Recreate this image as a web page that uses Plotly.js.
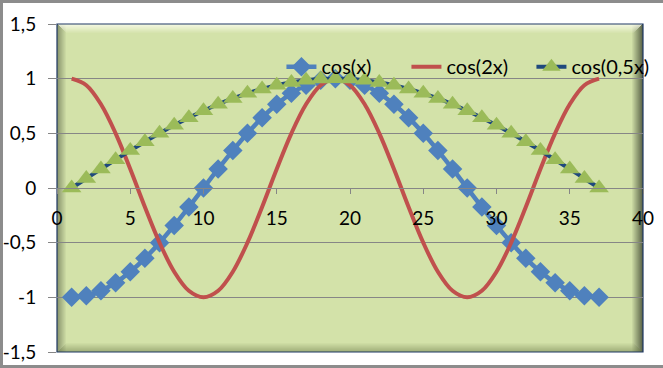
<!DOCTYPE html>
<html>
<head>
<meta charset="utf-8">
<script src="https://cdn.plot.ly/plotly-3.0.1.min.js"></script>
<style>
  html, body { margin: 0; padding: 0; background: #fff; }
  #wrap { position: relative; width: 663px; height: 368px; overflow: hidden; }
  #chart { width: 663px; height: 368px; }
  #frame { position: absolute; left: 0; top: 0; width: 663px; height: 368px; box-sizing: border-box;
           border-top: 3px solid #8c8c8c; border-left: 3px solid #8c8c8c; border-bottom: 3px solid #8c8c8c;
           pointer-events: none; }
</style>
</head>
<body>
<div id="wrap"><div id="chart"></div><div id="frame"></div></div>
<script>
// ---- data ----
const xValues = [1,2,3,4,5,6,7,8,9,10,11,12,13,14,15,16,17,18,19,20,21,22,23,24,25,26,27,28,29,30,31,32,33,34,35,36,37];
const cosX = [-1,-0.985,-0.94,-0.866,-0.766,-0.643,-0.5,-0.342,-0.174,0,0.174,0.342,0.5,0.643,0.766,0.866,0.94,0.985,1,
              0.985,0.94,0.866,0.766,0.643,0.5,0.342,0.174,0,-0.174,-0.342,-0.5,-0.643,-0.766,-0.866,-0.94,-0.985,-1];
const cos2X = [1,0.94,0.766,0.5,0.174,-0.174,-0.5,-0.766,-0.94,-1,-0.94,-0.766,-0.5,-0.174,0.174,0.5,0.766,0.94,1,
               0.94,0.766,0.5,0.174,-0.174,-0.5,-0.766,-0.94,-1,-0.94,-0.766,-0.5,-0.174,0.174,0.5,0.766,0.94,1];
const cosHalfX = [0,0.087,0.174,0.259,0.342,0.423,0.5,0.574,0.643,0.707,0.766,0.819,0.866,0.906,0.94,0.966,0.985,0.996,1,
                  0.996,0.985,0.966,0.94,0.906,0.866,0.819,0.766,0.707,0.643,0.574,0.5,0.423,0.342,0.259,0.174,0.087,0];
const seriesNames = ['cos(x)', 'cos(2x)', 'cos(0,5x)'];
const xTickVals = [0,5,10,15,20,25,30,35,40];
const xTickText = ['0','5','10','15','20','25','30','35','40'];
const yTickVals = [-1.5,-1,-0.5,0,0.5,1,1.5];
const yTickText = ['-1,5','-1','-0,5','0','0,5','1','1,5'];

// ---- layout geometry ----
const L = 57, R = 20, T = 24, B = 16;
const PW = 663 - L - R, PH = 368 - T - B;

const traces = [
  { x: xValues, y: cosX, name: seriesNames[0], type: 'scatter', mode: 'lines+markers',
    line: { color: '#4F81BD', width: 4.5, shape: 'spline', smoothing: 1 },
    marker: { symbol: 'diamond', size: 15, color: '#4F81BD' } },
  { x: xValues, y: cos2X, name: seriesNames[1], type: 'scatter', mode: 'lines',
    line: { color: '#C0504D', width: 4, shape: 'spline', smoothing: 1 } },
  { x: xValues, y: cosHalfX, name: seriesNames[2], type: 'scatter', mode: 'lines+markers',
    line: { color: '#1F497D', width: 4, shape: 'spline', smoothing: 1 },
    marker: { symbol: 'triangle-up', size: 17, color: '#9BBB59' } }
];

// bevel shapes around the plot area
const shapes = [];
function strip(side, n, colorFn) {
  for (let i = 0; i < n; i++) {
    const c = colorFn(i);
    let s = { type: 'rect', xref: 'paper', yref: 'paper', line: { width: 0 }, fillcolor: c, layer: 'below' };
    const dx = 1 / PW, dy = 1 / PH;
    if (side === 'left')   { s.x0 = i*dx; s.x1 = (i+1)*dx; s.y0 = 0; s.y1 = 1; }
    if (side === 'right')  { s.x0 = 1-(i+1)*dx; s.x1 = 1-i*dx; s.y0 = 0; s.y1 = 1; }
    if (side === 'top')    { s.y0 = 1-(i+1)*dy; s.y1 = 1-i*dy; s.x0 = (i+1)*dx; s.x1 = 1-(i+1)*dx; }
    if (side === 'bottom') { s.y0 = i*dy; s.y1 = (i+1)*dy; s.x0 = (i+1)*dx; s.x1 = 1-(i+1)*dx; }
    shapes.push(s);
  }
}
strip('left', 9, i => `rgba(90,100,70,${(0.6*(1 - i/9)).toFixed(3)})`);
strip('right', 11, i => `rgba(60,68,48,${(0.8*(1 - i/11)).toFixed(3)})`);
strip('top', 9, i => `rgba(250,252,235,${(0.85*(1 - i/9)).toFixed(3)})`);
strip('bottom', 9, i => `rgba(110,125,75,${(0.5*(1 - i/9)).toFixed(3)})`);
shapes.push({ type: 'rect', xref: 'paper', yref: 'paper', x0: 0, x1: 1, y0: 0, y1: 1,
              line: { color: '#1F3864', width: 1.2 }, fillcolor: 'rgba(0,0,0,0)', layer: 'below' });

const tickFont = { family: 'Lato, "Liberation Sans", sans-serif', size: 19, color: '#000' };
const legendFont = { family: 'Lato, "Liberation Sans", sans-serif', size: 20, color: '#000' };

const layout = {
  width: 663, height: 368,
  margin: { l: L, r: R, t: T, b: B, pad: 0, autoexpand: false },
  paper_bgcolor: '#ffffff',
  plot_bgcolor: '#D3E2A9',
  font: tickFont,
  showlegend: true,
  legend: { orientation: 'h', x: 0.383, xanchor: 'left', y: 0.87, yanchor: 'middle',
            bgcolor: 'rgba(0,0,0,0)', font: legendFont, itemwidth: 30, tracegroupgap: 0,
            entrywidth: 80, entrywidthmode: 'pixels' },
  xaxis: { range: [0, 40], tickvals: xTickVals, ticktext: xTickText, automargin: false,
           showgrid: false, zeroline: false, showline: true, linecolor: '#868686', linewidth: 1,
           ticks: 'outside', ticklen: 5, tickcolor: '#868686', ticklabelstandoff: 8,
           anchor: 'free', position: 0.5, tickfont: tickFont },
  yaxis: { range: [-1.5, 1.5], tickvals: yTickVals, ticktext: yTickText, automargin: false,
           showgrid: true, gridcolor: '#868686', gridwidth: 1, zeroline: false, showline: false,
           ticks: 'outside', ticklen: 8, tickcolor: '#868686', ticklabelstandoff: 8, tickfont: tickFont },
  shapes: shapes
};

Plotly.newPlot('chart', traces, layout, { displayModeBar: false, staticPlot: true });
</script>
</body>
</html>
